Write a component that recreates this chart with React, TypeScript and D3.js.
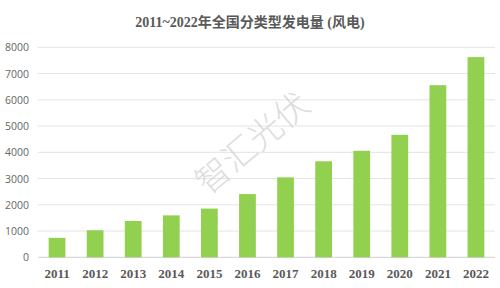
import React from "react";
import * as d3 from "d3";

const years = ["2011","2012","2013","2014","2015","2016","2017","2018","2019","2020","2021","2022"];
const values = [741, 1030, 1383, 1598, 1856, 2409, 3046, 3658, 4057, 4665, 6556, 7627];
const yTicks = [0, 1000, 2000, 3000, 4000, 5000, 6000, 7000, 8000];
const title = "2011~2022年全国分类型发电量 (风电)";

export default function App() {
  const W = 500, H = 288;
  const x = d3.scaleBand().domain(years).range([38, 495]).paddingInner(0.56).paddingOuter(0.28);
  const y = d3.scaleLinear().domain([0, 8000]).range([257.3, 47.3]);
  return (
    <svg width={W} height={H} style={{ position: "absolute", left: 0, top: 0, background: "#fff" }}>
      <text x={250} y={27} textAnchor="middle" fontSize={14} fontWeight="bold" fill="#595959"
        fontFamily="'Liberation Serif', 'Noto Sans CJK SC', serif">{title}</text>
      {yTicks.map(t => (
        <g key={t}>
          <line x1={38} x2={495} y1={y(t)} y2={y(t)} stroke={t === 0 ? "#d0d0d0" : "#e3e3e3"} strokeWidth={1} />
          <text x={29} y={y(t) + 4} textAnchor="end" fontSize={10.5} fill="#666"
            fontFamily="'Open Sans', sans-serif">{t}</text>
        </g>
      ))}
      {years.map((yr, i) => (
        <rect key={yr} x={x(yr)} y={y(values[i])} width={x.bandwidth()} height={y(0) - y(values[i])} fill="#92D050" />
      ))}
      {years.map(yr => (
        <text key={yr} x={(x(yr) as number) + x.bandwidth() / 2} y={278} textAnchor="middle" fontSize={13}
          fontWeight="bold" fill="#595959" fontFamily="'Liberation Serif', serif">{yr}</text>
      ))}
      <text x={0} y={0} transform="translate(260,152) rotate(-40)" textAnchor="middle" fontSize={34}
        fill="#d4d4d4" fillOpacity={0.8} fontFamily="'Noto Sans CJK SC', sans-serif" fontWeight={300}>智汇光伏</text>
    </svg>
  );
}
